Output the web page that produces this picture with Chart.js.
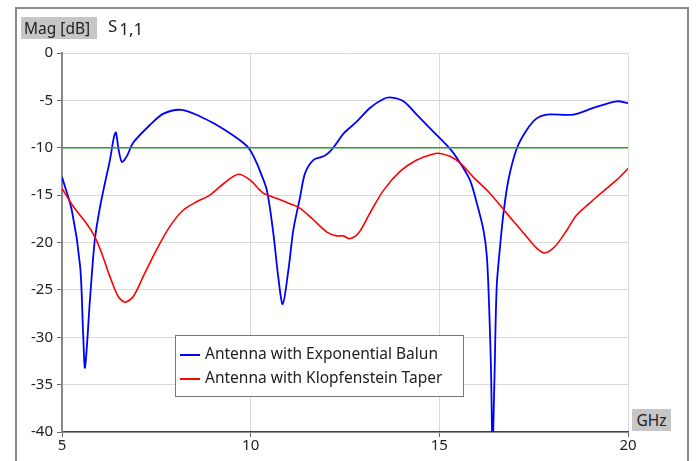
<!DOCTYPE html>
<html>
<head>
<meta charset="utf-8">
<script src="https://cdn.jsdelivr.net/npm/chart.js@4/dist/chart.umd.min.js"></script>
<style>
  body { margin: 0; background: #fff; font-family: "Noto Sans", "Open Sans", sans-serif; }
  #wrap { position: relative; width: 696px; height: 461px; }
  #frame { position: absolute; left: 15px; top: 7px; width: 674px; height: 470px; border: 2px solid #8c8c8c; box-sizing: border-box; }
  .tag { position: absolute; background: #c6c6c6; color: #222; font-size: 15.5px; line-height: 22px; padding: 0 3px; }
  #ylab { left: 21px; top: 17px; width: 70px; }
  #xlab { left: 632px; top: 409px; width: 33px; text-align: center; }
  #sparam { position: absolute; left: 108px; top: 14px; font-size: 17px; color: #222; }
  #sparam sub { font-size: 17px; position: relative; top: 3px; vertical-align: baseline; margin-left: 2px; }
  #legend { position: absolute; left: 175px; top: 335px; width: 289px; height: 62px; border: 1px solid #777; background: #fff; box-sizing: border-box; font-size: 15.5px; color: #222; }
  .row { position: absolute; left: 4px; height: 22px; line-height: 22px; white-space: nowrap; }
  .sw { display: inline-block; width: 20px; height: 0; border-top: 2px solid; vertical-align: middle; margin-right: 5px; }
</style>
</head>
<body>
<div id="wrap">
  <div id="frame"></div>
  <canvas id="chart" width="696" height="461"></canvas>
  <div class="tag" id="ylab">Mag [dB]</div>
  <div id="sparam">S<sub>1,1</sub></div>
  <div class="tag" id="xlab">GHz</div>
  <div id="legend">
    <div class="row" style="top:6px"><span class="sw" style="border-color:#0000ff"></span>Antenna with Exponential Balun</div>
    <div class="row" style="top:30px"><span class="sw" style="border-color:#ff0000"></span>Antenna with Klopfenstein Taper</div>
  </div>
</div>
<script>
// frequency in GHz, magnitude in dB
var balunFreq = [5.0, 5.26, 5.48, 5.56, 5.61, 5.74, 5.87, 6.01, 6.14, 6.27, 6.38, 6.43, 6.5, 6.59, 6.73, 6.88, 7.33, 7.69, 8.17, 8.66, 9.1, 9.54, 9.81, 9.98, 10.16, 10.25, 10.43, 10.6, 10.73, 10.85, 11.0, 11.13, 11.31, 11.44, 11.66, 11.93, 12.1, 12.28, 12.46, 12.81, 13.16, 13.52, 13.74, 14.05, 14.4, 14.84, 15.28, 15.55, 15.81, 15.99, 16.17, 16.26, 16.32, 16.37, 16.41, 16.46, 16.52, 16.61, 16.7, 16.83, 17.05, 17.32, 17.58, 17.85, 18.55, 19.08, 19.7, 20.0];
var balunMag = [-13.1, -16.6, -22.5, -29.6, -33.2, -26.1, -19.7, -16.2, -13.7, -11.3, -8.8, -8.4, -10.2, -11.5, -10.8, -9.5, -7.6, -6.4, -6.0, -6.7, -7.6, -8.7, -9.5, -10.2, -11.6, -12.5, -14.5, -19.0, -23.6, -26.5, -22.9, -18.7, -15.2, -12.7, -11.3, -10.9, -10.4, -9.5, -8.5, -7.25, -5.8, -4.85, -4.7, -5.1, -6.5, -8.3, -10.1, -11.6, -13.4, -15.8, -18.7, -21.5, -26.8, -33.5, -41.5, -34.5, -24.7, -20.4, -16.9, -13.4, -10.1, -8.1, -6.9, -6.5, -6.5, -5.8, -5.1, -5.3];

var taperFreq = [5.0, 5.3, 5.65, 5.87, 6.05, 6.27, 6.49, 6.67, 6.89, 7.15, 7.5, 7.86, 8.21, 8.57, 8.92, 9.28, 9.67, 9.98, 10.25, 10.34, 10.78, 11.04, 11.31, 11.66, 12.02, 12.28, 12.46, 12.62, 12.86, 13.16, 13.52, 13.96, 14.4, 14.84, 15.02, 15.28, 15.55, 15.9, 16.34, 16.78, 17.23, 17.58, 17.8, 18.07, 18.38, 18.64, 19.17, 19.7, 20.0];
var taperMag = [-14.3, -16.2, -18.0, -19.4, -21.1, -23.6, -25.7, -26.3, -25.7, -23.6, -20.8, -18.3, -16.6, -15.7, -15.0, -13.8, -12.8, -13.4, -14.5, -14.8, -15.5, -15.9, -16.4, -17.6, -18.9, -19.3, -19.3, -19.6, -19.0, -16.9, -14.5, -12.5, -11.3, -10.65, -10.6, -10.9, -11.6, -13.1, -14.8, -16.9, -19.0, -20.6, -21.1, -20.4, -18.7, -17.1, -15.2, -13.4, -12.2];

var limitFreq = [5, 20];
var limitMag = [-10, -10];

var xTicks = [5, 10, 15, 20];
var yTicks = [0, -5, -10, -15, -20, -25, -30, -35, -40];

function pts(xs, ys) {
  var out = [];
  for (var i = 0; i < xs.length; i++) out.push({x: xs[i], y: ys[i]});
  return out;
}

var ctx = document.getElementById('chart');
var chart = new Chart(ctx, {
  type: 'line',
  data: {
    datasets: [
      { label: 'limit', data: pts(limitFreq, limitMag), borderColor: '#2e9a2e', borderWidth: 1.6, pointRadius: 0, tension: 0 },
      { label: 'Antenna with Klopfenstein Taper', data: pts(taperFreq, taperMag), borderColor: '#ff0000', borderWidth: 1.6, pointRadius: 0, tension: 0.3 },
      { label: 'Antenna with Exponential Balun', data: pts(balunFreq, balunMag), borderColor: '#0000ff', borderWidth: 1.8, pointRadius: 0, tension: 0.3 }
    ]
  },
  options: {
    responsive: false,
    animation: false,
    layout: { padding: { left: 0, top: 53, right: 68, bottom: 0 } },
    plugins: { legend: { display: false }, tooltip: { enabled: false } },
    scales: {
      x: {
        type: 'linear', min: 5, max: 20,
        afterFit: function(s) { s.height = 29; },
        afterBuildTicks: function(s) { s.ticks = xTicks.map(function(v) { return {value: v}; }); },
        grid: { color: '#d9d9d9', tickLength: 5, tickColor: '#666' },
        border: { color: '#444', width: 1.5 },
        ticks: { color: '#222', font: { family: 'Noto Sans', size: 15 }, padding: 0, maxRotation: 0 }
      },
      y: {
        type: 'linear', min: -40, max: 0,
        afterFit: function(s) { s.width = 62; },
        afterBuildTicks: function(s) { s.ticks = yTicks.map(function(v) { return {value: v}; }); },
        grid: { color: '#d9d9d9', tickLength: 5, tickColor: '#666' },
        border: { color: '#888', width: 2 },
        ticks: { color: '#222', font: { family: 'Noto Sans', size: 15 }, padding: 4 }
      }
    }
  }
});
</script>
</body>
</html>
